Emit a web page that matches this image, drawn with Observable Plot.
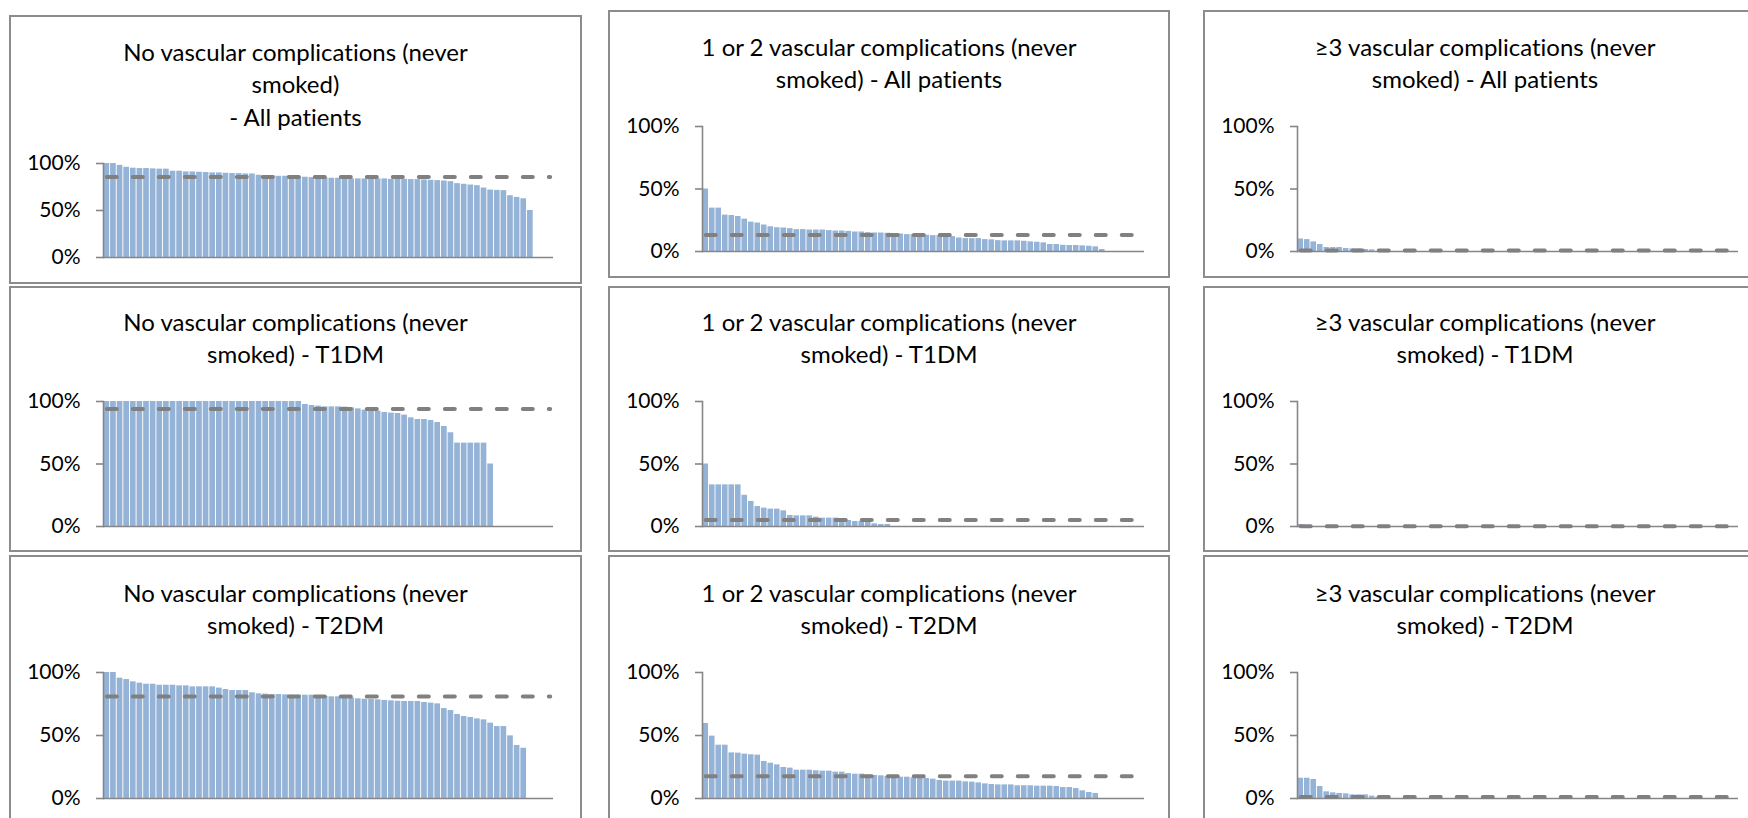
<!DOCTYPE html>
<html><head><meta charset="utf-8">
<script src="https://cdn.jsdelivr.net/npm/d3@7"></script>
<script src="https://cdn.jsdelivr.net/npm/@observablehq/plot@0.6"></script>
<style>
html,body{margin:0;padding:0;background:#fff}
body{width:1748px;height:818px;overflow:hidden;position:relative;font-family:Lato,sans-serif;font-variant-ligatures:none}
.frame{position:absolute;border:2px solid #8c8c8c;background:#fff;box-sizing:border-box}
.title{position:absolute;text-align:center;font-size:24px;line-height:32.5px;color:#000;white-space:nowrap;transform:translateX(-50%);font-variant-ligatures:none}
.chart{position:absolute}
</style></head><body>
<script>
// ---- data ----
const categories = d3.range(1, 69); // 68 centres on the category axis
const yTicks = [0, 50, 100];

const noneAll = [100,100,98,96,95,94.6,94.6,94.3,94,94,91.8,91.8,91,91,90.7,90.4,90,90,89.6,89.3,89.3,88.9,88.9,87.5,87.1,86.8,86.4,86.4,86,85.7,85.4,85,85,84.6,84.3,84.3,84,83.6,83.6,83.6,83.6,83.6,83.6,83.2,83.2,83.2,82.9,82.9,82.5,82.1,81.8,81.4,80.7,78.6,77.9,77.1,76.4,73.9,71.8,71.4,71.1,65.7,63.9,62.5,50];
const oneTwoAll = [50,34.7,34.7,29.1,28.8,28,25.9,23.5,22.8,21.2,19.8,19,18.8,18.3,17.5,17.5,17.2,17.2,17.2,16.7,16.4,16.4,16.1,15.6,15.6,15.1,14.8,14.8,14.6,14.3,14,13.5,13.5,13.2,13,12.7,12.7,12.2,11.9,10.8,10.3,10.3,10.3,9.5,9.3,8.7,8.5,8.5,8.5,8.2,7.7,7.4,6.9,5.6,5.6,5,4.8,4.8,4.5,4.2,3.7,1.6];
const threeAll = [10,9.5,7.7,5.6,3.2,3.2,3.2,2.4,2.1,2.1,1.6,1.3];

const noneT1 = [100,100,100,100,100,100,100,100,100,100,100,100,100,100,100,100,100,100,100,100,100,100,100,100,100,100,100,100,100,100,97.6,96.8,96.3,95.7,95.7,95.7,95.5,94.9,94.1,93.1,93.1,92.3,91.2,90.7,90.4,89.1,86.9,85.6,85.6,84.8,83.2,80,75,66.7,66.7,66.7,66.7,66.7,50];
const oneTwoT1 = [50,33.3,33.3,33.3,33.3,33.3,25,20,16,14.7,13.9,13.9,12.5,8.8,8.5,8.5,8.5,7.5,6.7,6.7,6.7,6.1,4.8,4,4,4,2.1,1.6,1.6];
const threeT1 = [1.6];

const noneT2 = [100,100,95.5,94.4,92.6,91.5,90.7,90.7,89.9,89.9,89.9,89.4,89.4,88.6,88.6,88.6,88.6,87.6,86.5,85.7,85.7,85.7,83.9,83.1,82.8,82.5,82.5,82.3,82,82,82,82,81.5,81,80.7,80.7,80.7,79.9,79.1,78.8,78.6,78.3,77.8,77.5,77.2,77,77,77,76.2,75.7,75.1,71.4,69.8,66.7,65.1,64.3,63.2,62.4,59.8,57.1,57.1,49.7,42.1,39.9];
const oneTwoT2 = [59.5,49.5,42.3,42.3,36.2,36,35.2,34.7,34.4,29.4,28,26.7,24.6,24.1,22.5,22.5,22.5,22,21.7,21.7,20.9,20.9,19.8,19.3,19.3,18.5,18.3,18,17.5,17.5,16.9,16.9,16.4,16.1,15.9,15.3,14.3,13.8,13.8,13.8,13.2,13,12.4,11.6,11.1,10.8,10.8,10.8,10.1,10.1,10.1,9.8,9.8,9.8,9.5,8.7,8.7,7.9,6.1,4.8,4];
const threeT2 = [16.1,16.1,15.1,9.5,5.3,4.5,4,3.7,2.9,2.9,2.9,1.9,1];

const averagesAll = [85.7, 13.2, 0.8];
const averagesT1 = [94.1, 5.3, 0.3];
const averagesT2 = [80.9, 17.7, 1.2];

const titlesAll = [
  ["No vascular complications (never", "smoked)", "- All patients"],
  ["1 or 2 vascular complications (never", "smoked) - All patients"],
  ["\u22653 vascular complications (never", "smoked) - All patients"]];
const titlesT1 = [
  ["No vascular complications (never", "smoked) - T1DM"],
  ["1 or 2 vascular complications (never", "smoked) - T1DM"],
  ["\u22653 vascular complications (never", "smoked) - T1DM"]];
const titlesT2 = [
  ["No vascular complications (never", "smoked) - T2DM"],
  ["1 or 2 vascular complications (never", "smoked) - T2DM"],
  ["\u22653 vascular complications (never", "smoked) - T2DM"]];

// ---- layout (page pixels) ----
const cols = [
  {left: 9, right: 582, axisX: 103, xEnd: 553},
  {left: 608, right: 1170, axisX: 702, xEnd: 1144},
  {left: 1203, right: 1767, axisX: 1297, xEnd: 1738}];
const rows = [
  [{top: 15, bottom: 284, y100: 163, y0: 257, t: 52}, {top: 10, bottom: 278, y100: 126, y0: 251, t: 47}, {top: 10, bottom: 278, y100: 126, y0: 251, t: 47}],
  [{top: 286, bottom: 552, y100: 401, y0: 526, t: 322}, {top: 286, bottom: 552, y100: 401, y0: 526, t: 322}, {top: 286, bottom: 552, y100: 401, y0: 526, t: 322}],
  [{top: 555, bottom: 830, y100: 672, y0: 798, t: 593}, {top: 555, bottom: 830, y100: 672, y0: 798, t: 593}, {top: 555, bottom: 830, y100: 672, y0: 798, t: 593}]];

const series = [[noneAll, oneTwoAll, threeAll], [noneT1, oneTwoT1, threeT1], [noneT2, oneTwoT2, threeT2]];
const averages = [averagesAll, averagesT1, averagesT2];
const titles = [titlesAll, titlesT1, titlesT2];

const ML = 80, MR = 10, MT = 15, MB = 15;
const body = document.body;

for (let r = 0; r < 3; r++) {
  for (let c = 0; c < 3; c++) {
    const col = cols[c], row = rows[r][c];
    const frame = document.createElement("div");
    frame.className = "frame";
    Object.assign(frame.style, {left: col.left + "px", top: row.top + "px", width: (col.right - col.left) + "px", height: (row.bottom - row.top) + "px"});
    body.appendChild(frame);

    const title = document.createElement("div");
    title.className = "title";
    title.innerHTML = titles[r][c].join("<br>");
    Object.assign(title.style, {left: ((col.left + col.right) / 2) + "px", top: (row.t - 16.25) + "px"});
    body.appendChild(title);

    const values = series[r][c];
    const bars = values.map((v, i) => ({cat: categories[i], v}));
    const avgLine = categories.map(cat => ({cat, v: averages[r][c]}));
    const plotW = col.xEnd - col.axisX, plotH = row.y0 - row.y100;

    const chart = Plot.plot({
      width: ML + plotW + MR,
      height: MT + plotH + MB,
      marginLeft: ML, marginRight: MR, marginTop: MT, marginBottom: MB,
      style: {fontFamily: "Lato, sans-serif", fontSize: "21px", color: "#000", background: "transparent", overflow: "visible"},
      x: {type: "band", domain: categories, paddingInner: 0.14, paddingOuter: 0.07, axis: null},
      y: {domain: [0, 100], axis: null},
      marks: [
        Plot.barY(bars, {x: "cat", y: "v", fill: "#95b3d7"}),
        Plot.ruleY([0], {stroke: "#868686", strokeWidth: 1.6}),
        Plot.frame({anchor: "left", stroke: "#868686", strokeWidth: 1.6}),
        Plot.axisY({ticks: yTicks, tickFormat: d => d + "%", tickSize: 7, tickPadding: 16, stroke: "#868686", strokeWidth: 1.6, fill: "#000", label: null}),
        Plot.lineY(avgLine, {x: "cat", y: "v", stroke: "#808080", strokeWidth: 4, strokeDasharray: "10,16", strokeLinecap: "round"})
      ]
    });
    chart.classList.add("chart");
    Object.assign(chart.style, {left: (col.axisX - ML) + "px", top: (row.y100 - MT) + "px"});
    body.appendChild(chart);
  }
}
</script>
</body></html>
